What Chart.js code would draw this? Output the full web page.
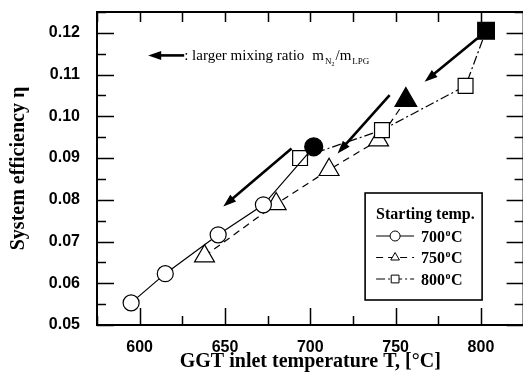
<!DOCTYPE html>
<html>
<head>
<meta charset="utf-8">
<script src="https://cdn.jsdelivr.net/npm/chart.js@4.4.0/dist/chart.umd.min.js"></script>
<style>
  html, body { margin: 0; padding: 0; background: #fff; overflow: hidden; }
</style>
</head>
<body>
<canvas id="myChart" width="530" height="378"></canvas>
<script>
// GGT inlet temperature [°C] / system efficiency, one pair per starting temp.
const temp700 = [595, 615, 646, 672.5, 702];
const eff700 = [0.0553, 0.0623, 0.0716, 0.0788, 0.0927];
const temp750 = [638, 680, 711, 740, 756];
const eff750 = [0.0665, 0.079, 0.0872, 0.0943, 0.1039];
const temp800 = [694, 742, 791, 803];
const eff800 = [0.09, 0.0967, 0.1073, 0.1205];

const seriesLabels = ["700°C", "750°C", "800°C"];
const xTickLabels = [600, 650, 700, 750, 800];
const yTickLabels = [0.05, 0.06, 0.07, 0.08, 0.09, 0.1, 0.11, 0.12];

// arrows "larger mixing ratio" (data units)
const arrowX0 = [798, 746.5, 689];
const arrowY0 = [0.1187, 0.1051, 0.0923];
const arrowX1 = [767, 716, 649];
const arrowY1 = [0.1083, 0.0911, 0.0784];

const serif = "'Liberation Serif', 'Times New Roman', serif";
const sans = "'Liberation Sans', Arial, sans-serif";

function toPoints(xs, ys) {
  return xs.map((x, i) => ({ x: x, y: ys[i] }));
}
function lastFilled(n) {
  return Array.from({ length: n }, (_, i) => (i === n - 1 ? "#000" : "#fff"));
}
function lastBigger(n, r, rLast) {
  return Array.from({ length: n }, (_, i) => (i === n - 1 ? rLast : r));
}

function drawArrow(ctx, x0, y0, x1, y1) {
  const ang = Math.atan2(y1 - y0, x1 - x0);
  const head = 13;
  const half = 4.5;
  ctx.beginPath();
  ctx.moveTo(x0, y0);
  ctx.lineTo(x1 - Math.cos(ang) * head * 0.8, y1 - Math.sin(ang) * head * 0.8);
  ctx.stroke();
  ctx.beginPath();
  ctx.moveTo(x1, y1);
  ctx.lineTo(x1 - Math.cos(ang) * head - Math.sin(ang) * half, y1 - Math.sin(ang) * head + Math.cos(ang) * half);
  ctx.lineTo(x1 - Math.cos(ang) * head + Math.sin(ang) * half, y1 - Math.sin(ang) * head - Math.cos(ang) * half);
  ctx.closePath();
  ctx.fill();
}

function drawMarker(ctx, style, x, y, r) {
  ctx.beginPath();
  if (style === "circle") {
    ctx.arc(x, y, r, 0, Math.PI * 2);
  } else if (style === "triangle") {
    ctx.moveTo(x, y - r);
    ctx.lineTo(x + r * 0.866, y + r * 0.5);
    ctx.lineTo(x - r * 0.866, y + r * 0.5);
    ctx.closePath();
  } else {
    const s = r * Math.SQRT1_2;
    ctx.rect(x - s, y - s, 2 * s, 2 * s);
  }
  ctx.fill();
  ctx.stroke();
}

// "700°C" with a raised small o
function drawDegText(ctx, text, x, y, size) {
  const parts = text.split("°");
  ctx.font = "bold " + size + "px " + serif;
  ctx.fillText(parts[0], x, y);
  let w = ctx.measureText(parts[0]).width;
  ctx.font = "bold " + Math.round(size * 0.6) + "px " + serif;
  ctx.fillText("o", x + w + 0.5, y - size * 0.35);
  w += ctx.measureText("o").width + 1;
  ctx.font = "bold " + size + "px " + serif;
  ctx.fillText(parts[1], x + w, y);
}

const framePlugin = {
  id: "frame",
  afterDatasetsDraw(chart) {
    const { ctx, chartArea: a, scales } = chart;
    const x = scales.x;
    const y = scales.y;
    ctx.save();
    ctx.strokeStyle = "#000";
    ctx.fillStyle = "#000";

    // inward ticks
    ctx.lineWidth = 1.5;
    ctx.beginPath();
    x.ticks.forEach((t) => {
      const px = Math.round(x.getPixelForValue(t.value)) + 0.5;
      const len = xTickLabels.includes(t.value) ? 17 : 9;
      ctx.moveTo(px, a.bottom);
      ctx.lineTo(px, a.bottom - len);
      ctx.moveTo(px, a.top);
      ctx.lineTo(px, a.top + 10);
    });
    y.ticks.forEach((t) => {
      const py = Math.round(y.getPixelForValue(t.value)) + 0.5;
      const major = Math.round(t.value * 1000) % 10 === 0;
      const len = major ? 17 : 9;
      ctx.moveTo(a.left, py);
      ctx.lineTo(a.left + len, py);
      ctx.moveTo(a.right, py);
      ctx.lineTo(a.right - len, py);
    });
    ctx.stroke();

    ctx.lineWidth = 2;
    ctx.strokeRect(a.left, a.top, a.right - a.left, a.bottom - a.top);

    // arrows
    ctx.lineWidth = 2.6;
    for (let i = 0; i < arrowX0.length; i++) {
      drawArrow(ctx,
        x.getPixelForValue(arrowX0[i]), y.getPixelForValue(arrowY0[i]),
        x.getPixelForValue(arrowX1[i]), y.getPixelForValue(arrowY1[i]));
    }

    // note at top left
    const nx = x.getPixelForValue(605);
    const ny = y.getPixelForValue(0.1146);
    ctx.lineWidth = 2.6;
    drawArrow(ctx, nx + 36, ny, nx, ny);
    ctx.textBaseline = "alphabetic";
    ctx.textAlign = "left";
    ctx.font = "15px " + serif;
    let tx = nx + 36;
    const base = ny + 5;
    ctx.fillText(": larger mixing ratio", tx, base);
    tx += ctx.measureText(": larger mixing ratio").width + 8;
    ctx.fillText("m", tx, base);
    tx += ctx.measureText("m").width + 1;
    ctx.font = "9px " + serif;
    ctx.fillText("N", tx, base + 4);
    tx += ctx.measureText("N").width;
    ctx.font = "6px " + serif;
    ctx.fillText("2", tx, base + 6);
    tx += ctx.measureText("2").width + 1;
    ctx.font = "15px " + serif;
    ctx.fillText("/m", tx, base);
    tx += ctx.measureText("/m").width + 1;
    ctx.font = "9px " + serif;
    ctx.fillText("LPG", tx, base + 4);

    // legend box
    const bx = a.right - 158.5;
    const by = a.bottom - 132;
    const bw = 117;
    const bh = 107;
    ctx.fillStyle = "#fff";
    ctx.fillRect(bx, by, bw, bh);
    ctx.lineWidth = 1.6;
    ctx.strokeRect(bx, by, bw, bh);
    ctx.fillStyle = "#000";
    ctx.textBaseline = "middle";
    ctx.font = "bold 16px " + serif;
    ctx.fillText("Starting temp.", bx + 11, by + 22);

    chart.data.datasets.forEach((ds, i) => {
      const ry = by + 43 + i * 21.5;
      const lx0 = bx + 11;
      const lx1 = bx + 49;
      const mx = bx + 30;
      ctx.lineWidth = 1.2;
      ctx.setLineDash(ds.borderDash || []);
      ctx.beginPath();
      ctx.moveTo(lx0, ry);
      ctx.lineTo(lx1, ry);
      ctx.stroke();
      ctx.setLineDash([]);
      ctx.fillStyle = "#fff";
      ctx.lineWidth = 1;
      drawMarker(ctx, ds.pointStyle, mx, ry, ds.pointStyle === "rect" ? 5.5 : 5);
      ctx.fillStyle = "#000";
      ctx.textBaseline = "alphabetic";
      drawDegText(ctx, seriesLabels[i], bx + 56, ry + 5.5, 16);
      ctx.textBaseline = "middle";
    });
    ctx.restore();
  }
};

const ctx = document.getElementById("myChart").getContext("2d");
const myChart = new Chart(ctx, {
  type: "line",
  data: {
    datasets: [
      {
        label: seriesLabels[0],
        data: toPoints(temp700, eff700),
        borderColor: "#000",
        borderWidth: 1.2,
        pointStyle: "circle",
        pointRadius: lastBigger(temp700.length, 8, 9),
        pointBackgroundColor: lastFilled(temp700.length),
        pointBorderColor: "#000",
        pointBorderWidth: 1.2,
        order: 0,
      },
      {
        label: seriesLabels[1],
        data: toPoints(temp750, eff750),
        borderColor: "#000",
        borderWidth: 1.2,
        borderDash: [7, 5],
        pointStyle: "triangle",
        pointRadius: lastBigger(temp750.length, 11.5, 12.5),
        pointBackgroundColor: lastFilled(temp750.length),
        pointBorderColor: "#000",
        pointBorderWidth: 1.2,
        order: 2,
      },
      {
        label: seriesLabels[2],
        data: toPoints(temp800, eff800),
        borderColor: "#000",
        borderWidth: 1.2,
        borderDash: [9, 3, 2, 3],
        pointStyle: "rect",
        pointRadius: lastBigger(temp800.length, 10.5, 11.8),
        pointBackgroundColor: lastFilled(temp800.length),
        pointBorderColor: "#000",
        pointBorderWidth: 1.2,
        order: 1,
      },
    ],
  },
  options: {
    responsive: false,
    animation: false,
    devicePixelRatio: 1,
    clip: false,
    layout: {
      autoPadding: false,
      padding: { left: 0, top: 12, right: 6.4, bottom: 0 },
    },
    plugins: {
      legend: { display: false },
      tooltip: { enabled: false },
    },
    scales: {
      x: {
        type: "linear",
        min: 575,
        max: 825,
        afterFit: (scale) => {
          scale.height = 53;
          scale.paddingLeft = 0;
          scale.paddingRight = 0;
        },
        grid: { display: false, drawTicks: false },
        border: { display: false },
        ticks: {
          stepSize: 25,
          autoSkip: false,
          maxRotation: 0,
          padding: 13,
          color: "#000",
          font: { family: sans, size: 16, weight: "bold" },
          callback: (v) => (xTickLabels.includes(v) ? String(v) : ""),
        },
        title: {
          display: true,
          text: "GGT inlet temperature T, [°C]",
          color: "#000",
          font: { family: serif, size: 20, weight: "bold" },
          padding: { top: 0, bottom: 4 },
        },
      },
      y: {
        type: "linear",
        min: 0.05,
        max: 0.125,
        afterFit: (scale) => {
          scale.width = 97;
          scale.paddingTop = 0;
          scale.paddingBottom = 0;
        },
        grid: { display: false, drawTicks: false },
        border: { display: false },
        ticks: {
          stepSize: 0.005,
          autoSkip: false,
          padding: 17,
          color: "#000",
          font: { family: sans, size: 16, weight: "bold" },
          callback: (v) => {
            const hit = yTickLabels.some((t) => Math.abs(t - v) < 1e-6);
            return hit ? v.toFixed(2) : "";
          },
        },
        title: {
          display: true,
          text: "System efficiency η",
          color: "#000",
          font: { family: serif, size: 20, weight: "bold" },
          padding: { top: 7, bottom: 0 },
        },
      },
    },
  },
  plugins: [framePlugin],
});
</script>
</body>
</html>
